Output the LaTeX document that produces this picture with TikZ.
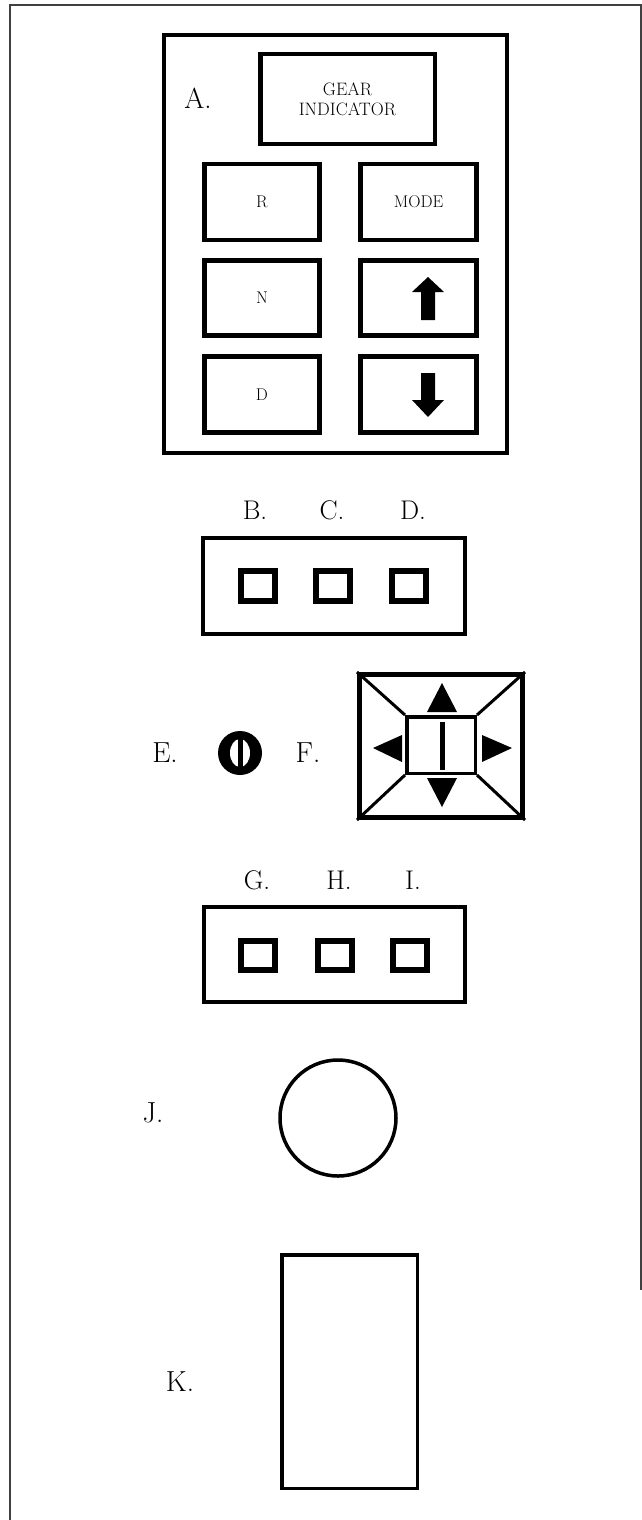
\documentclass[tikz,border=0pt]{standalone}
\usetikzlibrary{calc}
\begin{document}
\begin{tikzpicture}[x=1pt,y=-1pt,
  frameline/.style={line width=1.4pt,draw=black!75},
  bigbox/.style={draw,line width=4pt,rectangle,inner sep=0pt},
  keybox/.style={draw,line width=4.5pt,rectangle,inner sep=0pt,minimum width=115pt,minimum height=76pt,font=\fontsize{17}{20}\selectfont},
  sqbtn/.style={draw,line width=6pt,rectangle,inner sep=0pt,minimum width=34pt,minimum height=30pt},
  lbl/.style={inner sep=0pt,font=\fontsize{29}{34}\selectfont},
  lbls/.style={inner sep=0pt,font=\fontsize{27}{32}\selectfont}]
\useasboundingbox (0,0) rectangle (642,1520);
% outer frame
\coordinate (ftl) at (10,5);
\coordinate (ftr) at (641,5);
\coordinate (fbl) at (10,1520);
\coordinate (fbr) at (641,1290);
\draw[frameline] (fbl) -- (ftl) -- (ftr) -- (fbr);
% A panel
\node[bigbox,minimum width=343pt,minimum height=418pt] (panelA) at (335.5,244) {};
\node[lbl] (labA) at (198,98) {A.};
\node[keybox,minimum width=174.5pt,minimum height=89.5pt,align=center,font=\fontsize{18}{20}\selectfont] (gear) at (347.5,99) {GEAR\\INDICATOR};
\node[keybox] (keyR) at (262,202) {R};
\node[keybox,minimum width=116pt] (keyMode) at (418.5,202) {MODE};
\node[keybox,minimum height=75pt] (keyN) at (262,298) {N};
\node[keybox,minimum width=116pt,minimum height=75pt] (keyUp) at (418.5,298) {};
\node[keybox] (keyD) at (262,394.5) {D};
\node[keybox,minimum width=116pt] (keyDown) at (418.5,394.5) {};
\fill (428,277) -- (444,292) -- (435,292) -- (435,320) -- (421,320) -- (421,292) -- (412,292) -- cycle;
\fill (428,417) -- (444,400) -- (435,400) -- (435,373) -- (421,373) -- (421,400) -- (412,400) -- cycle;
% B C D
\node[lbls] (labB) at (255,510) {B.};
\node[lbls] (labC) at (332,510) {C.};
\node[lbls] (labD) at (413,510) {D.};
\node[bigbox,minimum width=262pt,minimum height=96pt] (boxBCD) at (334,586) {};
\node[sqbtn] (btnB) at (258,586) {};
\node[sqbtn] (btnC) at (333,586) {};
\node[sqbtn] (btnD) at (408.5,586) {};
% E F
\node[lbl] (labE) at (165,753) {E.};
\node[circle,fill=black,minimum size=44pt,inner sep=0pt] (knobE) at (240,753) {};
\fill[white] (knobE.center) ellipse [x radius=10pt,y radius=14pt];
\fill[black] ($(knobE.center)+(-2.5,-15)$) rectangle ($(knobE.center)+(2.5,15)$);
\node[lbl] (labF) at (308,753) {F.};
\node[draw,line width=5pt,rectangle,inner sep=0pt,minimum width=163pt,minimum height=143pt] (padF) at (441,746) {};
\node[draw,line width=3.5pt,rectangle,inner sep=0pt,minimum width=68.5pt,minimum height=56.5pt] (padC) at (441,745) {};
\draw[line width=3pt] (padF.north west) -- (padC.north west);
\draw[line width=3pt] (padF.north east) -- (padC.north east);
\draw[line width=3pt] (padF.south west) -- (padC.south west);
\draw[line width=3pt] (padF.south east) -- (padC.south east);
\fill (442,683) -- (457,712) -- (427,712) -- cycle;
\fill (442,807) -- (457,778) -- (427,778) -- cycle;
\fill (373,748) -- (402,735) -- (402,762) -- cycle;
\fill (512,748) -- (482,735) -- (482,762) -- cycle;
\fill (439.5,722) rectangle (444.5,770);
% G H I
\node[lbls] (labG) at (257,880) {G.};
\node[lbls] (labH) at (339,880) {H.};
\node[lbls] (labI) at (413,880) {I.};
\node[bigbox,minimum width=261pt,minimum height=95pt] (boxGHI) at (334.5,954.5) {};
\node[sqbtn,minimum height=29pt] (btnG) at (258,955.5) {};
\node[sqbtn,minimum height=29pt] (btnH) at (334.5,955.5) {};
\node[sqbtn,minimum height=29pt] (btnI) at (409.5,955.5) {};
% J
\node[lbl] (labJ) at (153,1113) {J.};
\node[circle,draw,line width=3.5pt,minimum size=116pt,inner sep=0pt] (circJ) at (338,1118) {};
% K
\node[lbl] (labK) at (180,1382) {K.};
\node[draw,line width=3.5pt,rectangle,inner sep=0pt,minimum width=135.5pt,minimum height=233.5pt] (rectK) at (349.5,1371.5) {};
\end{tikzpicture}
\end{document}
